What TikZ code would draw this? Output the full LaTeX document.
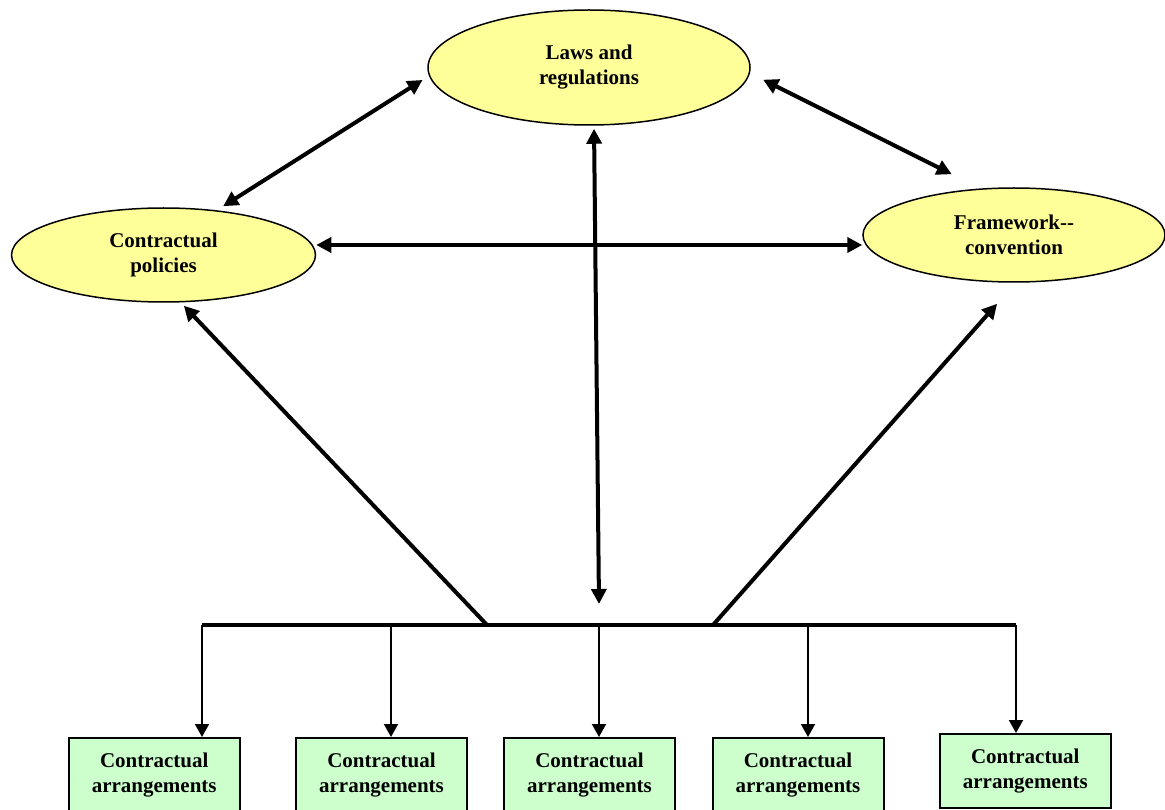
\documentclass[tikz,border=0pt]{standalone}
\usepackage{fontspec}
\setmainfont{Liberation Serif}
\usetikzlibrary{shapes.geometric,arrows.meta}
\definecolor{ellfill}{HTML}{FFFF99}
\definecolor{boxfill}{HTML}{CCFFCC}
\begin{document}
\begin{tikzpicture}[x=1pt,y=-1pt,
  lbl/.style={align=center,font=\fontsize{21}{25}\selectfont\bfseries},
  ell/.style={ellipse,draw,line width=1.5pt,fill=ellfill,inner sep=0pt,lbl},
  cbox/.style={rectangle,draw,line width=2pt,fill=boxfill,minimum width=171pt,minimum height=74pt,inner sep=0pt,lbl},
  bigtip/.tip={Triangle[length=15pt,width=15pt]},
  smalltip/.tip={Triangle[length=13pt,width=14pt]},
  twoway/.style={line width=4pt,bigtip-bigtip},
  oneway/.style={line width=4pt,-bigtip},
  drop/.style={line width=2pt,-smalltip},
  busline/.style={line width=4.5pt}]
\useasboundingbox (0,0) rectangle (1165,810);

% ellipses
\node[ell,minimum width=322pt,minimum height=115pt] (laws) at (589,67.5) {Laws and\\regulations};
\node[ell,minimum width=304pt,minimum height=94pt] (cp) at (163.5,255) {Contractual\\policies};
\node[ell,minimum width=302pt,minimum height=94pt] (fw) at (1014,235) {Framework-{}-\\convention};

% boxes
\node[cbox] (b1) at (154.25,775) {Contractual\\arrangements};
\node[cbox] (b2) at (381.5,775) {Contractual\\arrangements};
\node[cbox] (b3) at (589.5,775) {Contractual\\arrangements};
\node[cbox] (b4) at (798,775) {Contractual\\arrangements};
\node[cbox] (b5) at (1025.3,771) {Contractual\\arrangements};

% bus
\coordinate (d1) at (202,625);
\coordinate (d2) at (391,625);
\coordinate (d3) at (599,625);
\coordinate (d4) at (808,625);
\coordinate (d5) at (1016,625);
\coordinate (dl) at (487,625);
\coordinate (dr) at (713,625);
\coordinate (vb) at (599,604);
\draw[busline] (d1) -- (d5);

% drops
\foreach \i in {1,...,5} \draw[drop] (d\i) -- (d\i |- b\i.north);

% connectors between ellipses
\draw[twoway,shorten <=7.5pt,shorten >=7.6pt] (cp.40) -- (laws.183.6);
\draw[twoway,shorten <=14.7pt,shorten >=31.8pt] (laws.-2.3) -- (fw.126.1);
\draw[twoway] ([yshift=10pt]cp.east) -- ([yshift=-10pt]fw.west);
\draw[twoway,shorten >=3pt] (vb) -- ([xshift=5pt]laws.south);

% diagonals from bus
\draw[oneway,shorten >=4.5pt] (dl) -- (cp.-70);
\draw[oneway,shorten >=28pt] (dr) -- (fw.-88);
\end{tikzpicture}
\end{document}
